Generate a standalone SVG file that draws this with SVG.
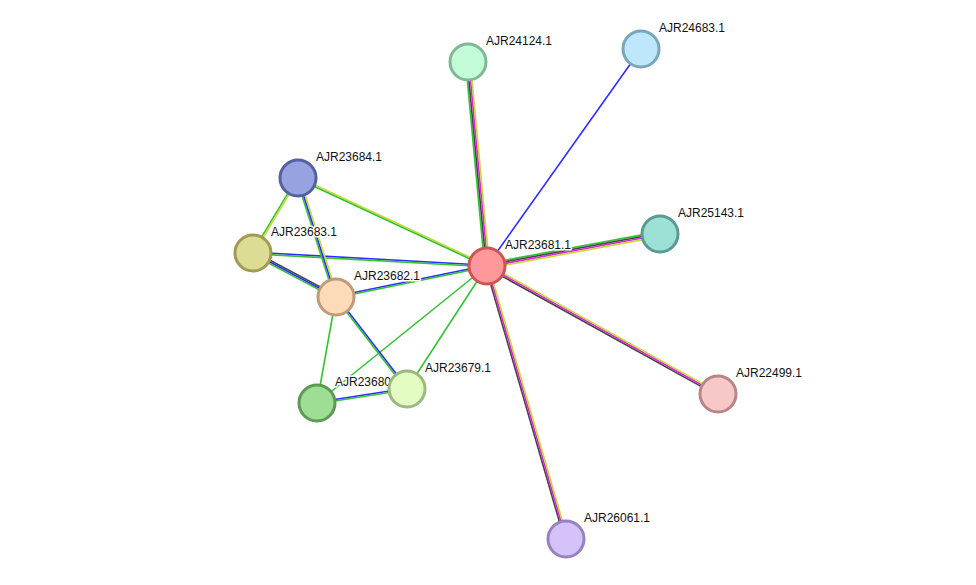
<svg xmlns="http://www.w3.org/2000/svg" width="976" height="585" viewBox="0 0 976 585">
<style>
line{stroke-width:1.6;fill:none}
.g{stroke:#33c233}.b{stroke:#2d2dff}.m{stroke:#dd22dd}.y{stroke:#c8d83a}.k{stroke:#444}
circle{stroke-width:3}
text{font-family:"Liberation Sans",Arial,sans-serif;font-size:12px;fill:#111;stroke:#fff;stroke-width:3;paint-order:stroke;stroke-linejoin:round}
</style>
<rect width="976" height="585" fill="#fff"/>
<g id="edges">
<line class="g" x1="484.6" y1="266" x2="465.6" y2="62"/><line class="k" x1="486.2" y1="266" x2="467.2" y2="62"/><line class="m" x1="487.8" y1="266" x2="468.8" y2="62"/><line class="y" x1="489.4" y1="266" x2="470.4" y2="62"/>
<line class="b" x1="487" y1="266" x2="641" y2="49"/>
<line class="g" x1="486.6" y1="263.6" x2="659.6" y2="231.6"/><line class="k" x1="486.9" y1="265.2" x2="659.9" y2="233.2"/><line class="m" x1="487.1" y1="266.8" x2="660.1" y2="234.8"/><line class="y" x1="487.4" y1="268.4" x2="660.4" y2="236.4"/>
<line class="k" x1="486.2" y1="267.4" x2="717.2" y2="395.4"/><line class="m" x1="487" y1="266" x2="718" y2="394"/><line class="y" x1="487.8" y1="264.6" x2="718.8" y2="392.6"/>
<line class="k" x1="485.5" y1="266.4" x2="564.5" y2="539.4"/><line class="m" x1="487" y1="266" x2="566" y2="539"/><line class="y" x1="488.5" y1="265.6" x2="567.5" y2="538.6"/>
<line class="y" x1="487.3" y1="265.3" x2="298.3" y2="177.3"/><line class="g" x1="486.7" y1="266.7" x2="297.7" y2="178.7"/>
<line class="b" x1="487" y1="265.2" x2="253" y2="252.2"/><line class="g" x1="487" y1="266.8" x2="253" y2="253.8"/>
<line class="b" x1="487" y1="265.2" x2="336" y2="296.2"/><line class="g" x1="487" y1="266.8" x2="336" y2="297.8"/>
<line class="g" x1="487" y1="266" x2="317" y2="403"/>
<line class="g" x1="487" y1="266" x2="407" y2="389"/>
<line class="g" x1="297.3" y1="177.6" x2="252.3" y2="252.6"/><line class="y" x1="298.7" y1="178.4" x2="253.7" y2="253.4"/>
<line class="g" x1="296.5" y1="178.5" x2="334.5" y2="297.5"/><line class="b" x1="298" y1="178" x2="336" y2="297"/><line class="y" x1="299.5" y1="177.5" x2="337.5" y2="296.5"/>
<line class="k" x1="253.8" y1="251.6" x2="336.8" y2="295.6"/><line class="b" x1="253" y1="253" x2="336" y2="297"/><line class="g" x1="252.3" y1="254.4" x2="335.3" y2="298.4"/>
<line class="g" x1="336" y1="297" x2="317" y2="403"/>
<line class="b" x1="336.6" y1="296.5" x2="407.6" y2="388.5"/><line class="g" x1="335.4" y1="297.5" x2="406.4" y2="389.5"/>
<line class="b" x1="317" y1="402.2" x2="407" y2="388.2"/><line class="g" x1="317" y1="403.8" x2="407" y2="389.8"/>
</g>
<g id="n23681"><circle cx="487" cy="266" r="18" fill="#f99" stroke="#c55"/><text x="505" y="249">AJR23681.1</text></g>
<g id="n24124"><circle cx="468" cy="62" r="18" fill="#c2fcd8" stroke="#80b896"/><text x="486" y="45">AJR24124.1</text></g>
<g id="n24683"><circle cx="641" cy="49" r="18" fill="#bfe7fb" stroke="#7aa6bc"/><text x="659" y="32">AJR24683.1</text></g>
<g id="n25143"><circle cx="660" cy="234" r="18" fill="#9de0d6" stroke="#5a9a92"/><text x="678" y="217">AJR25143.1</text></g>
<g id="n22499"><circle cx="718" cy="394" r="18" fill="#f8c8c8" stroke="#b88686"/><text x="736" y="377">AJR22499.1</text></g>
<g id="n26061"><circle cx="566" cy="539" r="18" fill="#d5c2fa" stroke="#9682bc"/><text x="584" y="522">AJR26061.1</text></g>
<g id="n23684"><circle cx="298" cy="178" r="18" fill="#97a3e0" stroke="#5460a0"/><text x="316" y="161">AJR23684.1</text></g>
<g id="n23683"><circle cx="253" cy="253" r="18" fill="#dcdc94" stroke="#a09a52"/><text x="271" y="236">AJR23683.1</text></g>
<g id="n23682"><circle cx="336" cy="297" r="18" fill="#fddab8" stroke="#c09a7a"/><text x="354" y="280">AJR23682.1</text></g>
<g id="n23680"><circle cx="317" cy="403" r="18" fill="#9ede94" stroke="#5a9a52"/><text x="335" y="386">AJR23680.1</text></g>
<g id="n23679"><circle cx="407" cy="389" r="18" fill="#e2fcc2" stroke="#9ab880"/><text x="425" y="372">AJR23679.1</text></g>
</svg>
